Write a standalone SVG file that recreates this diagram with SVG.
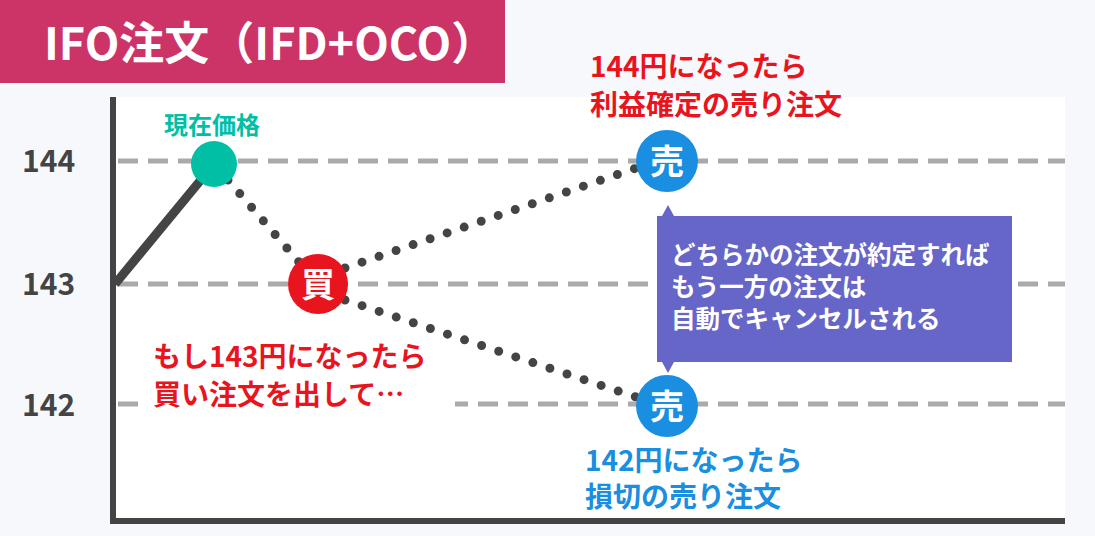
<svg xmlns="http://www.w3.org/2000/svg" width="1095" height="536" viewBox="0 0 1095 536">
<style>
text{font-family:"Noto Sans CJK JP","Noto Sans",sans-serif;font-weight:bold}
.grid{stroke:#aaa;stroke-width:5;stroke-dasharray:20 10;fill:none}
.dot{stroke:#444;stroke-width:9;stroke-linecap:round;stroke-dasharray:0 18;fill:none}
.ax{font-size:30px;fill:#444}
.red{font-size:28px;fill:#e8141e}
.blue{font-size:28px;fill:#1a8ee0}
.wt{font-size:24.5px;fill:#fff}
</style>
<rect width="1095" height="536" fill="#f7f8fc"/>
<rect x="113" y="97" width="952" height="425" fill="#fff"/>
<rect x="0" y="0" width="505" height="83" fill="#cc3366"/>
<text x="44" y="60" font-size="45" fill="#fff">IFO注文（IFD+OCO）</text>
<g id="axes">
<line x1="113" y1="97" x2="113" y2="524" stroke="#444" stroke-width="6"/>
<line x1="110" y1="521" x2="1065" y2="521" stroke="#444" stroke-width="6"/>
<line class="grid" x1="118" y1="161" x2="1065" y2="161"/>
<line class="grid" x1="118" y1="284" x2="1065" y2="284"/>
<line class="grid" x1="118" y1="404" x2="1065" y2="404"/>
<rect x="145" y="395" width="310" height="20" fill="#fff"/>
<text class="ax" x="22" y="172">144</text>
<text class="ax" x="22" y="295">143</text>
<text class="ax" x="22" y="416">142</text>
</g>
<g id="connectors">
<line x1="115" y1="284" x2="214" y2="164" stroke="#444" stroke-width="9"/>
<path class="dot" d="M228 180 L318 284"/>
<path class="dot" d="M345 268 L645 165"/>
<path class="dot" d="M345 300 L645 400"/>
</g>
<g id="now"><circle cx="214" cy="164" r="23" fill="#00bfa5"/><text x="164" y="134" font-size="24" fill="#00bfa5">現在価格</text></g>
<g id="buy"><circle cx="318" cy="284" r="30" fill="#e8141e"/><text x="318" y="297" font-size="34" fill="#fff" text-anchor="middle">買</text>
<text class="red" x="153" y="367">もし143円になったら</text><text class="red" x="153" y="405">買い注文を出して…</text></g>
<g id="sell1"><circle cx="667" cy="161" r="31" fill="#1a8ee0"/><text x="667" y="174" font-size="34" fill="#fff" text-anchor="middle">売</text>
<text class="red" x="590" y="77">144円になったら</text><text class="red" x="590" y="115">利益確定の売り注文</text></g>
<g id="sell2"><circle cx="667" cy="406" r="31" fill="#1a8ee0"/><text x="667" y="419" font-size="34" fill="#fff" text-anchor="middle">売</text>
<text class="blue" x="585" y="471">142円になったら</text><text class="blue" x="585" y="507">損切の売り注文</text></g>
<g id="callout">
<path d="M657 216 H662 L668 205 L674 216 H1012 V362 H674 L668 373 L662 362 H657 Z" fill="#6666c8"/>
<text class="wt" x="671" y="264">どちらかの注文が約定すれば</text>
<text class="wt" x="671" y="296">もう一方の注文は</text>
<text class="wt" x="671" y="328">自動でキャンセルされる</text>
</g>
</svg>
